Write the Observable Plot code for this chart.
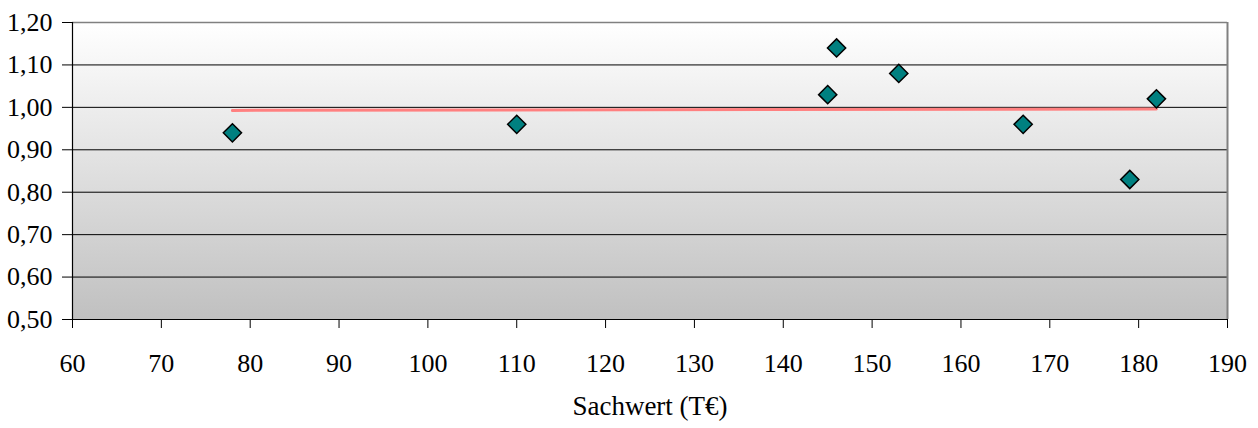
<!DOCTYPE html>
<html><head><meta charset="utf-8">
<script src="https://cdn.jsdelivr.net/npm/d3@7"></script>
<script src="https://cdn.jsdelivr.net/npm/@observablehq/plot@0.6"></script>
<style>body{margin:0;background:#fff}</style>
</head><body><div id="chart"></div>
<script>
const sachwert = [78, 110, 145, 146, 153, 167, 179, 182];
const faktor = [0.94, 0.96, 1.03, 1.14, 1.08, 0.96, 0.83, 1.02];
const xTicks = [60, 70, 80, 90, 100, 110, 120, 130, 140, 150, 160, 170, 180, 190];
const yTicks = [0.5, 0.6, 0.7, 0.8, 0.9, 1.0, 1.1, 1.2];
const xLabel = "Sachwert (T€)";

const points = sachwert.map((x, i) => ({x, y: faktor[i]}));
const fmt = d => d.toFixed(2).replace(".", ",");
const FONT = "'Liberation Serif', 'Times New Roman', serif";

const plot = Plot.plot({
  width: 1258, height: 428,
  marginTop: 22, marginBottom: 109, marginLeft: 72, marginRight: 31,
  style: "font-family: 'Liberation Serif', 'Times New Roman', serif; font-size: 26px; color: #000; background: #fff;",
  x: {domain: [60, 190]},
  y: {domain: [0.5, 1.2]},
  marks: [
    Plot.frame({fill: "url(#bgGrad)", stroke: "none"}),
    Plot.ruleY(yTicks.filter(d => d > 0.5 && d < 1.2), {stroke: "#000", strokeWidth: 1}),
    Plot.ruleY([1.2], {stroke: "#808080", strokeWidth: 1.5}),
    Plot.ruleX([190], {stroke: "#808080", strokeWidth: 2}),
    Plot.axisY({ticks: yTicks, tickFormat: fmt, tickSize: 10, tickPadding: 10, label: null, fontSize: 26, fontFamily: FONT}),
    Plot.axisX({ticks: xTicks, tickFormat: d => String(d), tickSize: 9, tickPadding: 25, label: null, fontSize: 26, fontFamily: FONT}),
    Plot.ruleX([60], {stroke: "#000", strokeWidth: 1.2}),
    Plot.ruleY([0.5], {stroke: "#000", strokeWidth: 1.2}),
    Plot.linearRegressionY(points, {x: "x", y: "y", stroke: "#ff8080", strokeWidth: 3, ci: 0}),
    Plot.dot(points, {x: "x", y: "y", symbol: "diamond2", r: 8.2, fill: "#008080", stroke: "#000", strokeWidth: 1.5}),
    Plot.text([xLabel], {text: d => d, frameAnchor: "bottom", dy: 95, fontSize: 27, fontFamily: FONT, fill: "#000"})
  ]
});

const ns = "http://www.w3.org/2000/svg";
const defs = document.createElementNS(ns, "defs");
defs.innerHTML = '<linearGradient id="bgGrad" x1="0" y1="0" x2="0" y2="1"><stop offset="0" stop-color="#ffffff"/><stop offset="1" stop-color="#c0c0c0"/></linearGradient>';
plot.insertBefore(defs, plot.firstChild);
document.getElementById("chart").appendChild(plot);
</script>
</body></html>
